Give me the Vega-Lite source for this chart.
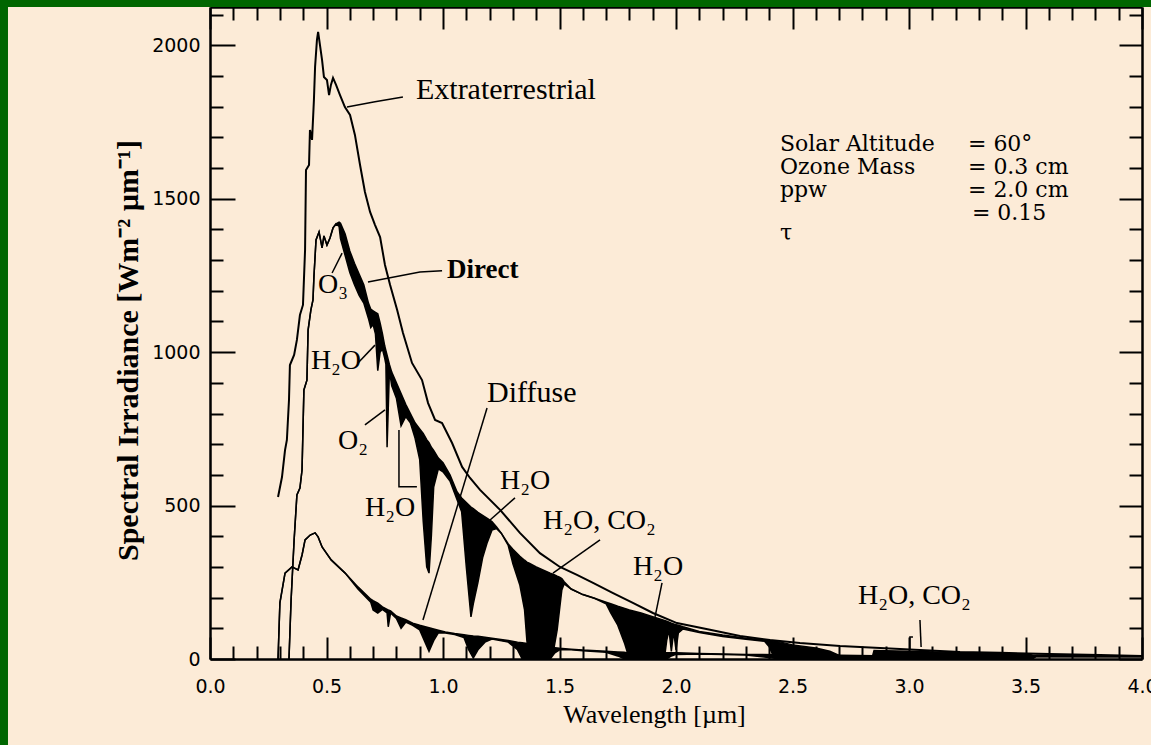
{
"$schema": "https://vega.github.io/schema/vega-lite/v6.json",
"width": 932, "height": 652,
"autosize": {"type": "none"},
"padding": {"left": 210, "top": 7, "right": 9, "bottom": 86},
"background": "#FCEBD7",
"config": {
 "view": {"stroke": null},
 "axis": {"grid": false, "domainColor": "black", "domainWidth": 2.5, "tickColor": "black", "tickWidth": 2, "labelColor": "black", "titleColor": "black"}
},
"datasets": {
 "et": [{"x":0.292,"y":528},{"x":0.309,"y":593},{"x":0.322,"y":681},{"x":0.330,"y":714},{"x":0.339,"y":844},{"x":0.343,"y":958},{"x":0.361,"y":991},{"x":0.373,"y":1040},{"x":0.386,"y":1121},{"x":0.399,"y":1154},{"x":0.408,"y":1333},{"x":0.412,"y":1594},{"x":0.425,"y":1610},{"x":0.429,"y":1724},{"x":0.438,"y":1692},{"x":0.446,"y":1822},{"x":0.451,"y":1930},{"x":0.459,"y":2018},{"x":0.464,"y":2044},{"x":0.472,"y":2001},{"x":0.481,"y":1952},{"x":0.489,"y":1897},{"x":0.502,"y":1887},{"x":0.511,"y":1838},{"x":0.519,"y":1871},{"x":0.528,"y":1894},{"x":0.541,"y":1871},{"x":0.558,"y":1838},{"x":0.579,"y":1799},{"x":0.601,"y":1773},{"x":0.622,"y":1708},{"x":0.644,"y":1610},{"x":0.665,"y":1522},{"x":0.687,"y":1457},{"x":0.708,"y":1415},{"x":0.730,"y":1375},{"x":0.751,"y":1284},{"x":0.773,"y":1219},{"x":0.803,"y":1138},{"x":0.828,"y":1063},{"x":0.867,"y":965},{"x":0.910,"y":909},{"x":0.936,"y":834},{"x":0.966,"y":779},{"x":0.996,"y":769},{"x":1.039,"y":704},{"x":1.082,"y":626},{"x":1.116,"y":590},{"x":1.159,"y":551},{"x":1.245,"y":486},{"x":1.330,"y":411},{"x":1.416,"y":345},{"x":1.502,"y":300},{"x":1.575,"y":274},{"x":1.644,"y":248},{"x":1.730,"y":215},{"x":1.815,"y":183},{"x":1.901,"y":150},{"x":2.004,"y":117},{"x":2.146,"y":95},{"x":2.275,"y":75},{"x":2.403,"y":62},{"x":2.532,"y":52},{"x":2.704,"y":42},{"x":2.876,"y":36},{"x":3.047,"y":29},{"x":3.219,"y":23},{"x":3.391,"y":20},{"x":3.605,"y":16},{"x":3.820,"y":13},{"x":4.0,"y":10}],
 "direct": [{"x":0.339,"env":0,"act":0},{"x":0.348,"env":192,"act":192},{"x":0.361,"env":388,"act":388},{"x":0.373,"env":535,"act":535},{"x":0.386,"env":557,"act":557},{"x":0.395,"env":616,"act":616},{"x":0.403,"env":877,"act":877},{"x":0.416,"env":909,"act":909},{"x":0.421,"env":1072,"act":1072},{"x":0.433,"env":1138,"act":1138},{"x":0.442,"env":1170,"act":1170},{"x":0.446,"env":1245,"act":1245},{"x":0.455,"env":1366,"act":1366},{"x":0.468,"env":1392,"act":1392},{"x":0.481,"env":1340,"act":1340},{"x":0.489,"env":1379,"act":1379},{"x":0.502,"env":1349,"act":1349},{"x":0.515,"env":1372,"act":1372},{"x":0.528,"env":1405,"act":1405},{"x":0.541,"env":1418,"act":1418},{"x":0.554,"env":1424,"act":1410},{"x":0.56,"env":1420,"act":1370},{"x":0.58,"env":1385,"act":1315},{"x":0.60,"env":1330,"act":1260},{"x":0.62,"env":1290,"act":1220},{"x":0.64,"env":1255,"act":1185},{"x":0.66,"env":1220,"act":1160},{"x":0.68,"env":1160,"act":1110},{"x":0.69,"env":1140,"act":1080},{"x":0.70,"env":1135,"act":1090},{"x":0.71,"env":1130,"act":1060},{"x":0.72,"env":1125,"act":940},{"x":0.73,"env":1095,"act":1000},{"x":0.74,"env":1060,"act":1010},{"x":0.75,"env":1020,"act":980},{"x":0.755,"env":1005,"act":960},{"x":0.76,"env":990,"act":690},{"x":0.77,"env":960,"act":940},{"x":0.78,"env":935,"act":890},{"x":0.80,"env":900,"act":850},{"x":0.82,"env":865,"act":760},{"x":0.84,"env":830,"act":790},{"x":0.86,"env":800,"act":770},{"x":0.88,"env":770,"act":720},{"x":0.90,"env":750,"act":650},{"x":0.915,"env":735,"act":450},{"x":0.93,"env":715,"act":300},{"x":0.94,"env":705,"act":280},{"x":0.95,"env":690,"act":400},{"x":0.96,"env":680,"act":560},{"x":0.98,"env":655,"act":620},{"x":1.00,"env":640,"act":610},{"x":1.03,"env":600,"act":580},{"x":1.06,"env":545,"act":520},{"x":1.08,"env":525,"act":480},{"x":1.10,"env":510,"act":300},{"x":1.12,"env":495,"act":137},{"x":1.13,"env":490,"act":180},{"x":1.15,"env":478,"act":250},{"x":1.17,"env":468,"act":330},{"x":1.19,"env":458,"act":380},{"x":1.21,"env":448,"act":420},{"x":1.23,"env":430,"act":425},{"x":1.25,"env":410,"act":410},{"x":1.28,"env":375,"act":370},{"x":1.30,"env":358,"act":310},{"x":1.33,"env":335,"act":240},{"x":1.35,"env":322,"act":160},{"x":1.36,"env":316,"act":60},{"x":1.37,"env":312,"act":0},{"x":1.40,"env":300,"act":0},{"x":1.46,"env":280,"act":0},{"x":1.475,"env":276,"act":30},{"x":1.49,"env":270,"act":95},{"x":1.50,"env":267,"act":160},{"x":1.51,"env":262,"act":225},{"x":1.52,"env":252,"act":245},{"x":1.55,"env":228,"act":228},{"x":1.60,"env":210,"act":210},{"x":1.65,"env":198,"act":198},{"x":1.70,"env":185,"act":180},{"x":1.72,"env":180,"act":150},{"x":1.75,"env":172,"act":110},{"x":1.78,"env":165,"act":50},{"x":1.80,"env":160,"act":0},{"x":1.85,"env":150,"act":0},{"x":1.90,"env":138,"act":0},{"x":1.95,"env":126,"act":0},{"x":1.96,"env":123,"act":60},{"x":1.97,"env":120,"act":95},{"x":1.98,"env":117,"act":25},{"x":1.99,"env":114,"act":90},{"x":2.00,"env":112,"act":30},{"x":2.01,"env":110,"act":85},{"x":2.03,"env":105,"act":98},{"x":2.10,"env":90,"act":86},{"x":2.20,"env":78,"act":73},{"x":2.30,"env":68,"act":64},{"x":2.38,"env":62,"act":58},{"x":2.40,"env":61,"act":40},{"x":2.42,"env":58,"act":5},{"x":2.45,"env":55,"act":0},{"x":2.50,"env":46,"act":0},{"x":2.60,"env":36,"act":0},{"x":2.66,"env":25,"act":0},{"x":2.70,"env":12,"act":0},{"x":2.72,"env":0,"act":0},{"x":2.84,"env":0,"act":0},{"x":2.85,"env":28,"act":0},{"x":3.00,"env":25,"act":0},{"x":3.20,"env":21,"act":0},{"x":3.50,"env":16,"act":0},{"x":3.53,"env":13,"act":0},{"x":3.55,"env":12,"act":12},{"x":4.0,"env":9,"act":9}],
 "diffuse": [{"x":0.292,"env":0,"act":0},{"x":0.30,"env":183,"act":183},{"x":0.322,"env":280,"act":280},{"x":0.352,"env":300,"act":300},{"x":0.378,"env":290,"act":290},{"x":0.395,"env":339,"act":339},{"x":0.408,"env":388,"act":388},{"x":0.43,"env":404,"act":404},{"x":0.451,"env":411,"act":411},{"x":0.464,"env":398,"act":398},{"x":0.481,"env":365,"act":365},{"x":0.52,"env":323,"act":323},{"x":0.58,"env":280,"act":280},{"x":0.635,"env":235,"act":228},{"x":0.69,"env":195,"act":185},{"x":0.70,"env":190,"act":160},{"x":0.72,"env":182,"act":150},{"x":0.74,"env":170,"act":162},{"x":0.76,"env":162,"act":150},{"x":0.765,"env":160,"act":105},{"x":0.775,"env":157,"act":150},{"x":0.80,"env":140,"act":132},{"x":0.82,"env":134,"act":100},{"x":0.84,"env":128,"act":120},{"x":0.87,"env":117,"act":110},{"x":0.90,"env":110,"act":95},{"x":0.92,"env":106,"act":60},{"x":0.94,"env":102,"act":25},{"x":0.96,"env":98,"act":60},{"x":0.98,"env":94,"act":85},{"x":1.01,"env":88,"act":85},{"x":1.05,"env":83,"act":80},{"x":1.09,"env":79,"act":70},{"x":1.11,"env":77,"act":30},{"x":1.13,"env":75,"act":3},{"x":1.15,"env":74,"act":30},{"x":1.18,"env":71,"act":55},{"x":1.21,"env":68,"act":65},{"x":1.28,"env":60,"act":55},{"x":1.32,"env":55,"act":30},{"x":1.34,"env":53,"act":0},{"x":1.46,"env":39,"act":0},{"x":1.48,"env":37,"act":20},{"x":1.50,"env":35,"act":30},{"x":1.55,"env":32,"act":30},{"x":1.60,"env":29,"act":27},{"x":1.70,"env":25,"act":22},{"x":1.75,"env":23,"act":10},{"x":1.78,"env":22,"act":0},{"x":1.96,"env":20,"act":0},{"x":1.98,"env":20,"act":10},{"x":2.0,"env":20,"act":15},{"x":2.1,"env":18,"act":16},{"x":2.3,"env":15,"act":13},{"x":2.45,"env":14,"act":0},{"x":2.70,"env":12,"act":0},{"x":2.85,"env":11,"act":0},{"x":3.5,"env":8,"act":0},{"x":3.55,"env":8,"act":8},{"x":4.0,"env":7,"act":7}],
 "pointers": [{"id":"e","o":1,"x":0.588,"y":1799},{"id":"e","o":2,"x":0.708,"y":1816},{"id":"e","o":3,"x":0.828,"y":1832},
  {"id":"d","o":1,"x":0.678,"y":1229},{"id":"d","o":2,"x":0.901,"y":1261},{"id":"d","o":3,"x":0.996,"y":1265},
  {"id":"o3","o":1,"x":0.524,"y":1258},{"id":"o3","o":2,"x":0.567,"y":1323},
  {"id":"h1","o":1,"x":0.635,"y":965},{"id":"h1","o":2,"x":0.708,"y":1023},
  {"id":"o2","o":1,"x":0.665,"y":763},{"id":"o2","o":2,"x":0.751,"y":812},
  {"id":"h2","o":1,"x":0.811,"y":746},{"id":"h2","o":2,"x":0.811,"y":561},{"id":"h2","o":3,"x":0.888,"y":561},
  {"id":"df","o":1,"x":1.189,"y":818},{"id":"df","o":2,"x":0.914,"y":127},
  {"id":"h3","o":1,"x":1.309,"y":525},{"id":"h3","o":2,"x":1.202,"y":453},
  {"id":"hc1","o":1,"x":1.674,"y":388},{"id":"hc1","o":2,"x":1.472,"y":280},
  {"id":"h4","o":1,"x":1.940,"y":248},{"id":"h4","o":2,"x":1.910,"y":137},
  {"id":"hc2","o":1,"x":3.047,"y":127},{"id":"hc2","o":2,"x":3.052,"y":39},
  {"id":"br","o":1,"x":3.004,"y":29},{"id":"br","o":2,"x":3.004,"y":72},{"id":"br","o":3,"x":3.017,"y":72}],
 "labels": [{"t":"Extraterrestrial","x":0.884,"y":1855,"k":"big"},{"t":"Diffuse","x":1.189,"y":867,"k":"big"},{"t":"Direct","x":1.017,"y":1268,"k":"bold"},
  {"t":"O₃","x":0.464,"y":1219,"k":"chem"},{"t":"H₂O","x":0.433,"y":971,"k":"chem"},{"t":"O₂","x":0.549,"y":711,"k":"chem"},{"t":"H₂O","x":0.665,"y":492,"k":"chem"},{"t":"H₂O","x":1.245,"y":580,"k":"chem"},{"t":"H₂O, CO₂","x":1.429,"y":450,"k":"chem"},{"t":"H₂O","x":1.815,"y":300,"k":"chem"},{"t":"H₂O, CO₂","x":2.781,"y":205,"k":"chem"},
  {"t":"Solar Altitude","x":2.446,"y":1680,"k":"info"},{"t":"Ozone Mass","x":2.446,"y":1604,"k":"info"},{"t":"ppw","x":2.446,"y":1529,"k":"info"},{"t":"τ","x":2.446,"y":1390,"k":"info"},
  {"t":"= 60°","x":3.253,"y":1680,"k":"info"},{"t":"= 0.3 cm","x":3.253,"y":1604,"k":"info"},{"t":"= 2.0 cm","x":3.253,"y":1529,"k":"info"},{"t":"= 0.15","x":3.27,"y":1452,"k":"info"}]
},
"layer": [
 {"data": {"values": [{}]}, "mark": {"type": "rect", "color": "#006600"},
  "encoding": {"x": {"datum": -0.95, "type": "quantitative", "scale": {"domain": [0, 4]}, "axis": null}, "x2": {"datum": -0.867},
   "y": {"datum": -300, "type": "quantitative", "scale": {"domain": [0, 2125]}, "axis": null}, "y2": {"datum": 2170}}},
 {"data": {"values": [{}]}, "mark": {"type": "rect", "color": "#006600"},
  "encoding": {"x": {"datum": -0.95, "type": "quantitative", "scale": {"domain": [0, 4]}, "axis": null}, "x2": {"datum": 4.2},
   "y": {"datum": 2125, "type": "quantitative", "scale": {"domain": [0, 2125]}, "axis": null}, "y2": {"datum": 2170}}},
 {"data": {"name": "direct"}, "mark": {"type": "area", "color": "black"},
  "encoding": {"x": {"field": "x", "type": "quantitative", "scale": {"domain": [0, 4]}, "axis": null},
   "y": {"field": "act", "type": "quantitative", "scale": {"domain": [0, 2125]}, "axis": null}, "y2": {"field": "env"}}},
 {"data": {"name": "diffuse"}, "mark": {"type": "area", "color": "black"},
  "encoding": {"x": {"field": "x", "type": "quantitative", "scale": {"domain": [0, 4]}, "axis": null},
   "y": {"field": "act", "type": "quantitative", "scale": {"domain": [0, 2125]}, "axis": null}, "y2": {"field": "env"}}},
 {"data": {"name": "et"}, "mark": {"type": "line", "color": "black", "strokeWidth": 2},
  "encoding": {
   "x": {"field": "x", "type": "quantitative", "scale": {"domain": [0, 4]},
    "axis": {"orient": "bottom", "values": [0, 0.5, 1, 1.5, 2, 2.5, 3, 3.5, 4], "format": ".1f", "ticks": false, "labelFlush": false, "labelOverlap": false,
     "labelFont": "DejaVu Sans", "labelFontSize": 19, "labelPadding": 18,
     "title": "Wavelength [µm]", "titleFont": "Liberation Serif", "titleFontSize": 26, "titleFontWeight": "normal", "titlePadding": 5, "titleX": 444}},
   "y": {"field": "y", "type": "quantitative", "scale": {"domain": [0, 2125]},
    "axis": {"orient": "left", "values": [0, 500, 1000, 1500, 2000], "format": "d", "ticks": false, "labelFlush": false, "labelOverlap": false,
     "labelFont": "DejaVu Sans", "labelFontSize": 19, "labelPadding": 10,
     "title": "Spectral Irradiance [Wm⁻² µm⁻¹]", "titleFont": "Liberation Serif", "titleFontSize": 30, "titleFontWeight": "bold", "titlePadding": 8, "titleY": 343}}}},
 {"data": {"name": "direct"}, "mark": {"type": "line", "color": "black", "strokeWidth": 1.5},
  "encoding": {
   "x": {"field": "x", "type": "quantitative", "scale": {"domain": [0, 4]},
    "axis": {"orient": "bottom", "values": [0,0.1,0.2,0.3,0.4,0.5,0.6,0.7,0.8,0.9,1,1.1,1.2,1.3,1.4,1.5,1.6,1.7,1.8,1.9,2,2.1,2.2,2.3,2.4,2.5,2.6,2.7,2.8,2.9,3,3.1,3.2,3.3,3.4,3.5,3.6,3.7,3.8,3.9,4],
     "labels": false, "domain": false, "title": null, "tickSize": {"condition": {"test": "datum.value % 0.5 === 0", "value": -22}, "value": -13}}},
   "y": {"field": "env", "type": "quantitative", "scale": {"domain": [0, 2125]},
    "axis": {"orient": "left", "values": [0,100,200,300,400,500,600,700,800,900,1000,1100,1200,1300,1400,1500,1600,1700,1800,1900,2000,2100],
     "labels": false, "domain": false, "title": null, "tickSize": {"condition": {"test": "datum.value % 500 === 0", "value": -25}, "value": -13}}}}},
 {"data": {"name": "direct"}, "mark": {"type": "line", "color": "black", "strokeWidth": 1.5},
  "encoding": {
   "x": {"field": "x", "type": "quantitative", "scale": {"domain": [0, 4]},
    "axis": {"orient": "top", "values": [0,0.1,0.2,0.3,0.4,0.5,0.6,0.7,0.8,0.9,1,1.1,1.2,1.3,1.4,1.5,1.6,1.7,1.8,1.9,2,2.1,2.2,2.3,2.4,2.5,2.6,2.7,2.8,2.9,3,3.1,3.2,3.3,3.4,3.5,3.6,3.7,3.8,3.9,4],
     "labels": false, "domain": true, "title": null, "tickSize": {"condition": {"test": "datum.value % 0.5 === 0", "value": -22}, "value": -13}}},
   "y": {"field": "act", "type": "quantitative", "scale": {"domain": [0, 2125]},
    "axis": {"orient": "right", "values": [0,100,200,300,400,500,600,700,800,900,1000,1100,1200,1300,1400,1500,1600,1700,1800,1900,2000,2100],
     "labels": false, "domain": true, "title": null, "tickSize": {"condition": {"test": "datum.value % 500 === 0", "value": -23}, "value": -13}}}}},
 {"data": {"name": "diffuse"}, "mark": {"type": "line", "color": "black", "strokeWidth": 1.5},
  "encoding": {"x": {"field": "x", "type": "quantitative", "scale": {"domain": [0, 4]}, "axis": null},
   "y": {"field": "env", "type": "quantitative", "scale": {"domain": [0, 2125]}, "axis": null}}},
 {"data": {"name": "diffuse"}, "mark": {"type": "line", "color": "black", "strokeWidth": 1.5},
  "encoding": {"x": {"field": "x", "type": "quantitative", "scale": {"domain": [0, 4]}, "axis": null},
   "y": {"field": "act", "type": "quantitative", "scale": {"domain": [0, 2125]}, "axis": null}}},
 {"data": {"name": "pointers"}, "mark": {"type": "line", "color": "black", "strokeWidth": 1.5},
  "encoding": {"x": {"field": "x", "type": "quantitative", "scale": {"domain": [0, 4]}, "axis": null},
   "y": {"field": "y", "type": "quantitative", "scale": {"domain": [0, 2125]}, "axis": null},
   "detail": {"field": "id"}, "order": {"field": "o"}}},
 {"data": {"name": "labels"}, "transform": [{"filter": "datum.k === 'big'"}],
  "mark": {"type": "text", "align": "left", "baseline": "middle", "font": "Liberation Serif, DejaVu Serif, serif", "fontSize": 30, "color": "black"},
  "encoding": {"x": {"field": "x", "type": "quantitative", "scale": {"domain": [0, 4]}, "axis": null},
   "y": {"field": "y", "type": "quantitative", "scale": {"domain": [0, 2125]}, "axis": null}, "text": {"field": "t"}}},
 {"data": {"name": "labels"}, "transform": [{"filter": "datum.k === 'bold'"}],
  "mark": {"type": "text", "align": "left", "baseline": "middle", "font": "Liberation Serif, DejaVu Serif, serif", "fontSize": 27, "fontWeight": "bold", "color": "black"},
  "encoding": {"x": {"field": "x", "type": "quantitative", "scale": {"domain": [0, 4]}, "axis": null},
   "y": {"field": "y", "type": "quantitative", "scale": {"domain": [0, 2125]}, "axis": null}, "text": {"field": "t"}}},
 {"data": {"name": "labels"}, "transform": [{"filter": "datum.k === 'chem'"}],
  "mark": {"type": "text", "align": "left", "baseline": "middle", "font": "Liberation Serif, DejaVu Serif, serif", "fontSize": 28, "color": "black"},
  "encoding": {"x": {"field": "x", "type": "quantitative", "scale": {"domain": [0, 4]}, "axis": null},
   "y": {"field": "y", "type": "quantitative", "scale": {"domain": [0, 2125]}, "axis": null}, "text": {"field": "t"}}},
 {"data": {"name": "labels"}, "transform": [{"filter": "datum.k === 'info'"}],
  "mark": {"type": "text", "align": "left", "baseline": "middle", "font": "DejaVu Serif, serif", "fontSize": 22, "color": "black"},
  "encoding": {"x": {"field": "x", "type": "quantitative", "scale": {"domain": [0, 4]}, "axis": null},
   "y": {"field": "y", "type": "quantitative", "scale": {"domain": [0, 2125]}, "axis": null}, "text": {"field": "t"}}}
],
"resolve": {"axis": {"x": "independent", "y": "independent"}}
}
